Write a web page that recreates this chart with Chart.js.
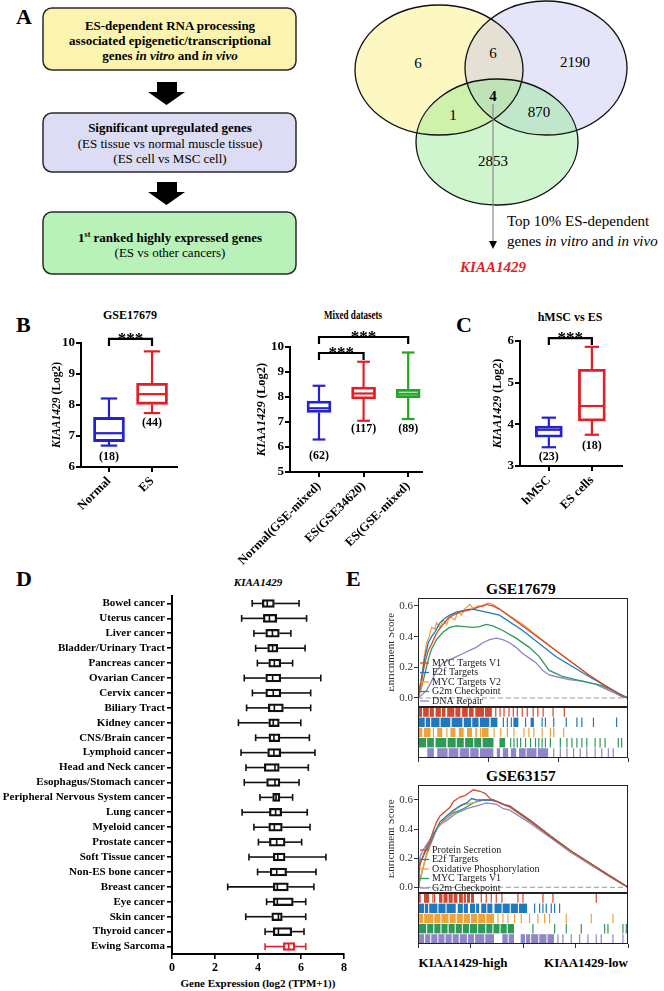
<!DOCTYPE html>
<html lang="en">
<head>
<meta charset="UTF-8">
<title>KIAA1429 in Ewing sarcoma</title>
<script src="https://cdn.jsdelivr.net/npm/chart.js"></script>
<style>
  body { margin: 0; background: #fff; }
  #fig { position: relative; width: 664px; height: 991px; overflow: hidden; background: #fff; }
  #fig canvas, #fig svg { position: absolute; }
</style>
</head>
<body>
<div id="fig">
  <svg id="art" width="664" height="991" style="left:0;top:0" font-family="'Liberation Serif', 'Times New Roman', serif">
    <!-- A : flow chart -->
    <rect x="43" y="8" width="253" height="62" rx="9" fill="#fbf4b0" stroke="#2a2a2a" stroke-width="1.5"/>
    <g font-size="13" font-weight="bold" text-anchor="middle">
      <text x="170" y="29.5">ES-dependent RNA processing</text>
      <text x="170" y="44.5">associated epigenetic/transcriptional</text>
      <text x="170" y="59.5">genes <tspan font-style="italic">in vitro</tspan> and <tspan font-style="italic">in vivo</tspan></text>
    </g>
    <polygon points="157,82 177,82 177,92 185,92 166.5,105 148,92 157,92" fill="#000"/>
    <rect x="43" y="113" width="253" height="59" rx="9" fill="#dcdcf4" stroke="#2a2a2a" stroke-width="1.5"/>
    <g font-size="13" text-anchor="middle">
      <text x="170" y="131.5" font-weight="bold">Significant upregulated genes</text>
      <text x="170" y="147.5">(ES tissue vs normal muscle tissue)</text>
      <text x="170" y="162.5">(ES cell vs MSC cell)</text>
    </g>
    <polygon points="157,182 177,182 177,192 185,192 166.5,205 148,192 157,192" fill="#000"/>
    <rect x="43" y="212" width="253" height="62" rx="9" fill="#b9f2b9" stroke="#2a2a2a" stroke-width="1.5"/>
    <g font-size="13" text-anchor="middle">
      <text x="170" y="241.5" font-weight="bold">1<tspan font-size="8" dy="-5">st</tspan><tspan dy="5"> ranked highly expressed genes</tspan></text>
      <text x="170" y="256.5">(ES vs other cancers)</text>
    </g>
    <!-- A : venn -->
    <g id="vennFill">
      <ellipse cx="439" cy="70" rx="84" ry="65" fill="rgb(250,240,120)" fill-opacity="0.45"/>
      <ellipse cx="546" cy="68" rx="81" ry="67" fill="rgb(190,190,240)" fill-opacity="0.4"/>
      <ellipse cx="497" cy="142" rx="81" ry="63" fill="rgb(140,230,140)" fill-opacity="0.42"/>
    </g>
    <g fill="none" stroke="#111" stroke-width="1.3">
      <ellipse cx="439" cy="70" rx="84" ry="65"/>
      <ellipse cx="546" cy="68" rx="81" ry="67"/>
      <ellipse cx="497" cy="142" rx="81" ry="63"/>
    </g>
    <g id="vennText" font-size="15" text-anchor="middle"></g>
    <line x1="493" y1="104" x2="493" y2="243" stroke="#8a8a8a" stroke-width="1.2"/>
    <polygon points="489,241 497,241 493,249" fill="#000"/>
    <g font-size="15">
      <text x="507" y="226">Top 10% ES-dependent</text>
      <text x="507" y="246">genes <tspan font-style="italic">in vitro</tspan> and <tspan font-style="italic">in vivo</tspan></text>
    </g>
    <text x="493" y="272" font-size="15" font-weight="bold" font-style="italic" fill="#e41e26" text-anchor="middle">KIAA1429</text>

    <!-- panel letters -->
    <g font-size="22" font-weight="bold">
      <text x="16" y="24">A</text>
      <text x="16" y="332">B</text>
      <text x="456" y="332">C</text>
      <text x="16" y="586">D</text>
      <text x="346" y="586">E</text>
    </g>
    <!-- B / C titles -->
    <g font-size="12" font-weight="bold" text-anchor="middle">
      <text x="130" y="319">GSE17679</text>
      <text x="353" y="319" textLength="58" lengthAdjust="spacingAndGlyphs">Mixed datasets</text>
      <text x="570" y="321">hMSC vs ES</text>
    </g>
    <!-- D titles -->
    <text x="258" y="586" font-size="11" font-weight="bold" font-style="italic" text-anchor="middle">KIAA1429</text>
    <text x="258" y="987" font-size="11" font-weight="bold" text-anchor="middle">Gene Expression (log2 (TPM+1))</text>
    <!-- E titles -->
    <g font-weight="bold" text-anchor="middle">
      <text x="521" y="593.5" font-size="15.5">GSE17679</text>
      <text x="521" y="780.5" font-size="15.5">GSE63157</text>
      <text x="463" y="966.5" font-size="13">KIAA1429-high</text>
      <text x="586" y="966.5" font-size="13">KIAA1429-low</text>
    </g>
  </svg>
  <canvas id="b1" width="175" height="200" style="left:20px;top:330px"></canvas>
  <canvas id="b2" width="225" height="245" style="left:215px;top:330px"></canvas>
  <canvas id="c1" width="185" height="200" style="left:455px;top:330px"></canvas>
  <canvas id="d1" width="360" height="421" style="left:0px;top:570px"></canvas>
  <canvas id="e1" width="245" height="129" style="left:389px;top:588px"></canvas>
  <canvas id="e1r" width="245" height="57" style="left:389px;top:707px"></canvas>
  <canvas id="e2" width="245" height="128" style="left:389px;top:775px"></canvas>
  <canvas id="e2r" width="245" height="57" style="left:389px;top:893px"></canvas>
</div>

<script>
// ---------- A : venn counts
const vennCounts = [6, 6, 2190, 1, 4, 870, 2853];

// ---------- B : GSE17679
const gseGroups = ['Normal', 'ES'];
const gseMin = [6.69, 7.74];
const gseQ1 = [6.82, 8.02];
const gseMed = [7.09, 8.35];
const gseQ3 = [7.60, 8.70];
const gseMax = [8.21, 9.73];
const gseN = ['(18)', '(44)'];

// ---------- B : mixed datasets
const mixGroups = ['Normal(GSE-mixed)', 'ES(GSE34620)', 'ES(GSE-mixed)'];
const mixMin = [6.30, 7.05, 7.12];
const mixQ1 = [7.38, 7.92, 7.97];
const mixMed = [7.55, 8.14, 8.13];
const mixQ3 = [7.84, 8.40, 8.31];
const mixMax = [8.45, 9.41, 9.78];
const mixN = ['(62)', '(117)', '(89)'];

// ---------- C : hMSC vs ES
const cellGroups = ['hMSC', 'ES cells'];
const cellMin = [3.45, 3.75];
const cellQ1 = [3.69, 4.08];
const cellMed = [3.87, 4.44];
const cellQ3 = [3.96, 5.32];
const cellMax = [4.16, 5.86];
const cellN = ['(23)', '(18)'];

// ---------- D : pan-cancer expression
const cancerTypes = ['Bowel cancer', 'Uterus cancer', 'Liver cancer', 'Bladder/Urinary Tract', 'Pancreas cancer',
  'Ovarian Cancer', 'Cervix cancer', 'Biliary Tract', 'Kidney cancer', 'CNS/Brain cancer', 'Lymphoid cancer',
  'Head and Neck cancer', 'Esophagus/Stomach cancer', 'Peripheral Nervous System cancer', 'Lung cancer',
  'Myeloid cancer', 'Prostate cancer', 'Soft Tissue cancer', 'Non-ES bone cancer', 'Breast cancer', 'Eye cancer',
  'Skin cancer', 'Thyroid cancer', 'Ewing Sarcoma'];
const panMin = [3.73, 3.24, 3.81, 3.89, 3.97, 3.36, 3.74, 3.47, 3.09, 3.89, 3.21, 3.44, 3.36, 4.09, 3.26, 3.81, 4.02, 3.58, 3.98, 2.59, 4.40, 3.43, 4.33, 4.33];
const panQ1 = [4.20, 4.25, 4.36, 4.45, 4.50, 4.36, 4.36, 4.48, 4.50, 4.51, 4.45, 4.29, 4.40, 4.68, 4.53, 4.50, 4.53, 4.71, 4.57, 4.71, 4.71, 4.64, 4.71, 5.18];
const panMed = [4.43, 4.53, 4.67, 4.68, 4.76, 4.68, 4.71, 4.76, 4.71, 4.74, 4.74, 4.79, 4.79, 4.84, 4.82, 4.76, 4.87, 4.92, 4.87, 4.90, 4.90, 4.95, 4.95, 5.43];
const panQ3 = [4.76, 4.87, 4.99, 4.92, 5.06, 5.06, 5.06, 5.18, 4.99, 5.02, 5.06, 4.99, 5.02, 5.02, 5.10, 5.13, 5.26, 5.26, 5.33, 5.41, 5.64, 5.13, 5.57, 5.72];
const panMax = [5.91, 6.26, 5.53, 6.19, 5.61, 6.92, 6.45, 6.45, 5.99, 6.39, 6.65, 6.34, 5.91, 5.61, 6.29, 6.42, 6.03, 7.16, 6.70, 6.60, 6.22, 6.22, 6.14, 6.22];
const panTicks = [0, 2, 4, 6, 8];

// ---------- E : GSEA GSE17679 (rank 0..15600)
const e1Sets = ['MYC Targets V1', 'E2f Targets', 'MYC Targets V2', 'G2m Checkpoint', 'DNA Repair'];
const e1RankV1 = [0, 271, 517, 763, 1009, 1255, 1501, 1870, 2239, 2608, 3100, 3592, 4084, 4576, 5068, 5560, 6052, 7774, 10234, 12694, 15154, 15600];
const e1EsV1 = [0, 0.12, 0.23, 0.31, 0.35, 0.40, 0.44, 0.48, 0.52, 0.54, 0.56, 0.57, 0.58, 0.595, 0.61, 0.60, 0.58, 0.47, 0.31, 0.15, 0.01, 0];
const e1RankE2f = [0, 271, 517, 763, 1009, 1255, 1624, 1993, 2362, 2854, 3346, 3838, 4330, 5068, 6052, 7774, 10234, 12694, 14908, 15600];
const e1EsE2f = [0, 0.14, 0.27, 0.36, 0.40, 0.43, 0.49, 0.52, 0.54, 0.56, 0.57, 0.58, 0.575, 0.56, 0.54, 0.44, 0.27, 0.14, 0.03, 0];
const e1RankV2 = [0, 98, 271, 394, 640, 836, 1009, 1255, 1378, 1624, 1870, 2116, 2362, 2731, 2977, 3223, 3469, 3838, 4084, 4453, 4822, 5191, 5560, 6052, 7774, 10234, 12694, 15154, 15600];
const e1EsV2 = [0, 0.03, 0.07, 0.23, 0.36, 0.40, 0.46, 0.45, 0.49, 0.46, 0.51, 0.48, 0.53, 0.51, 0.56, 0.54, 0.58, 0.61, 0.585, 0.60, 0.595, 0.62, 0.61, 0.58, 0.48, 0.31, 0.15, 0.01, 0];
const e1RankG2m = [0, 271, 517, 763, 1009, 1378, 1870, 2362, 2854, 3469, 4084, 4576, 5068, 5560, 6298, 7282, 8266, 9004, 9742, 10234, 10726, 11710, 12694, 13678, 14662, 15154, 15600];
const e1EsG2m = [0, 0.07, 0.16, 0.25, 0.32, 0.38, 0.43, 0.46, 0.47, 0.465, 0.46, 0.465, 0.48, 0.47, 0.44, 0.39, 0.33, 0.27, 0.18, 0.16, 0.14, 0.12, 0.10, 0.08, 0.04, 0.01, 0];
const e1RankDna = [0, 271, 640, 1009, 1378, 1870, 2362, 2854, 3346, 3838, 4330, 4822, 5314, 5806, 6298, 6790, 7282, 7774, 8266, 8758, 9250, 9742, 10234, 11218, 12202, 13186, 14170, 15154, 15600];
const e1EsDna = [0, 0.02, 0.05, 0.11, 0.18, 0.23, 0.25, 0.27, 0.29, 0.31, 0.33, 0.36, 0.38, 0.39, 0.38, 0.36, 0.33, 0.29, 0.26, 0.23, 0.18, 0.15, 0.14, 0.12, 0.11, 0.09, 0.05, 0.01, 0];
// hit positions: dense runs and single hits
const e1HitRuns = [
  [[0, 300], [380, 800], [870, 1181], [1304, 1700], [1780, 2042], [2166, 2700], [2780, 3150], [3273, 3700], [3780, 4134], [4257, 4900], [4980, 5486]],
  [[0, 500], [580, 900], [980, 1600], [1680, 2400], [2500, 3300], [3400, 3950], [4030, 4500], [4600, 5300], [5400, 5900], [7085, 7454], [8364, 8610]],
  [[0, 320], [443, 935], [1427, 1796], [2411, 2780], [3026, 3395], [3641, 4010], [4256, 4379], [4748, 5240]],
  [[0, 600], [680, 1181], [1304, 2100], [2200, 2800], [2880, 3400], [3500, 4100], [4180, 4700], [4800, 5609], [6052, 6470]],
  [[689, 1181], [1427, 2200], [2280, 3000], [3100, 3800], [3880, 4500], [4600, 5600], [5855, 6100], [6300, 6700], [6900, 7300], [7500, 8000], [8069, 8800], [8900, 9668]]
];
const e1Hits = [
  [5732, 6052, 6347, 6716, 7036, 7331, 7700, 8069, 8512, 8856, 9250, 9988, 10824],
  [6298, 6593, 6888, 7946, 9176, 9422, 10037, 10972, 11759, 12128, 12989, 14711],
  [1100, 2100, 4600, 5609, 6101, 6593, 7085, 7823, 8192, 8561, 9176, 9791, 10037, 10775],
  [6839, 7085, 7331, 7577, 7946, 8315, 8684, 8930, 9176, 9422, 9791, 10529, 11021, 11390, 11759, 12128, 12497, 13112, 13481, 13850, 14834, 15080],
  [10037, 10529, 11021, 11513, 12005, 12497, 13112, 13604, 14096, 14465]
];

// ---------- E : GSEA GSE63157 (rank 0..20600)
const e2Sets = ['Protein Secretion', 'E2f Targets', 'Oxidative Phosphorylation', 'MYC Targets V1', 'G2m Checkpoint'];
const e2RankProt = [0, 196, 523, 850, 1177, 1504, 1831, 2158, 2485, 2812, 3139, 3466, 4120, 4611, 4938, 5428, 6082, 6573, 7063, 7717, 8371, 9000, 11000, 13000, 15000, 17000, 19000, 20600];
const e2EsProt = [0, 0.165, 0.22, 0.28, 0.32, 0.39, 0.45, 0.49, 0.51, 0.53, 0.55, 0.59, 0.62, 0.63, 0.646, 0.67, 0.66, 0.646, 0.61, 0.59, 0.57, 0.555, 0.46, 0.35, 0.25, 0.16, 0.07, 0];
const e2RankE2f = [0, 98, 360, 687, 1177, 1668, 2158, 2812, 3466, 4120, 4774, 5265, 5755, 6246, 7063, 7717, 8371, 9000, 11000, 13000, 15000, 17000, 19000, 20600];
const e2EsE2f = [0, 0.14, 0.19, 0.24, 0.30, 0.38, 0.45, 0.49, 0.53, 0.56, 0.58, 0.61, 0.60, 0.60, 0.60, 0.59, 0.57, 0.555, 0.455, 0.35, 0.25, 0.16, 0.07, 0];
const e2RankOx = [0, 262, 687, 1177, 1831, 2485, 3139, 3793, 4447, 5428, 6409, 7390, 8371, 9000, 11000, 13000, 15000, 17000, 19000, 20600];
const e2EsOx = [0, 0.07, 0.19, 0.28, 0.40, 0.45, 0.50, 0.54, 0.57, 0.58, 0.60, 0.60, 0.57, 0.55, 0.45, 0.35, 0.245, 0.155, 0.07, 0];
const e2RankMyc = [0, 196, 523, 850, 1177, 1831, 2485, 3466, 4447, 5428, 6409, 7390, 8371, 9000, 11000, 13000, 15000, 17000, 19000, 20600];
const e2EsMyc = [0, 0.05, 0.14, 0.23, 0.29, 0.40, 0.46, 0.51, 0.54, 0.58, 0.60, 0.60, 0.57, 0.56, 0.46, 0.355, 0.25, 0.16, 0.07, 0];
const e2RankG2m = [0, 196, 523, 1014, 1504, 2158, 2812, 3793, 4774, 5755, 6736, 7717, 8371, 9000, 11000, 13000, 15000, 17000, 19000, 20600];
const e2EsG2m = [0, 0.21, 0.26, 0.31, 0.37, 0.43, 0.46, 0.51, 0.54, 0.56, 0.58, 0.57, 0.54, 0.53, 0.44, 0.34, 0.24, 0.15, 0.065, 0];
const e2HitRuns = [
  [[0, 262], [589, 1079], [2060, 2400], [2500, 2900], [3000, 3400], [3500, 3859], [4022, 4400], [4500, 4700], [4800, 5100], [5200, 5494]],
  [[0, 600], [680, 1000], [1100, 1900], [2000, 2700], [2800, 3700], [3900, 4400], [4500, 4900], [5100, 5600], [5700, 6000], [6200, 6700], [6800, 7300], [7500, 8200], [8300, 9000], [9100, 9800], [9900, 10700]],
  [[0, 500], [600, 1500], [1600, 2200], [2300, 3000], [3100, 3700], [3800, 4400], [4500, 5100], [5200, 5800], [5900, 6600], [6700, 7456]],
  [[0, 800], [900, 1500], [1600, 2200], [2300, 2900], [3000, 3600], [3700, 4300], [4400, 5000], [5100, 5800], [5900, 6600], [6700, 7300], [7400, 8000], [8100, 8700], [8800, 9418]],
  [[0, 600], [700, 1200], [1300, 1900], [2000, 2600], [2700, 3300], [3400, 4000], [4100, 4800], [4900, 5500], [5600, 6500], [6600, 7456], [8273, 8800], [8900, 9418], [10072, 10500], [10600, 11000], [11100, 11800], [11900, 12600], [12700, 13342]]
];
const e2Hits = [
  [1406, 1570, 6148, 6638, 7129, 7619, 8175, 9745, 10235, 12197, 13178, 17429],
  [11380, 11870, 12197, 12524, 13015, 13342, 13832],
  [7783, 8273, 8764, 9418, 10072, 10889, 11707, 12361, 12851, 14486, 16939, 19064],
  [11216, 13342, 14486, 15958, 18247, 18574, 20045, 20372],
  [13669, 14159, 14977, 15794, 16612, 17429, 17920, 19064, 20045]
];
const esTicks = [0, 0.2, 0.4, 0.6];

// ---------------------------------------------------------------
const SERIF = "'Liberation Serif', 'Times New Roman', serif";
Chart.defaults.font.family = SERIF;
Chart.defaults.color = '#000';
Chart.defaults.animation = false;
Chart.defaults.plugins.legend.display = false;
Chart.defaults.plugins.tooltip.enabled = false;

const setColors = ['#cf4a30', '#2079c0', '#f0a23a', '#2e9a58', '#8f86c8'];
const blue = '#2323d4', red = '#e21f26', green = '#21a821';

// venn numbers
const vennSpots = [[418, 63], [493, 53], [575, 62], [453, 115], [493, 96], [539, 112], [493, 161]];
const vg = document.getElementById('vennText');
vennCounts.forEach((n, i) => {
  const t = document.createElementNS('http://www.w3.org/2000/svg', 'text');
  t.setAttribute('x', vennSpots[i][0]);
  t.setAttribute('y', vennSpots[i][1] + 5);
  if (n === 4) t.setAttribute('font-weight', 'bold');
  t.textContent = n;
  vg.appendChild(t);
});

// box + whisker drawing on top of the floating bars
function boxPlugin(cfg) {
  return {
    id: 'boxes',
    afterDatasetsDraw(chart) {
      const { ctx, chartArea: a } = chart;
      const horiz = chart.options.indexAxis === 'y';
      const v = horiz ? chart.scales.x : chart.scales.y;
      ctx.save();
      chart.getDatasetMeta(0).data.forEach((bar, i) => {
        const c = horiz ? bar.y : bar.x;
        const half = (horiz ? bar.height : bar.width) / 2;
        const cap = half * cfg.cap;
        const seg = (v1, c1, v2, c2) => {
          ctx.beginPath();
          if (horiz) { ctx.moveTo(v1, c1); ctx.lineTo(v2, c2); } else { ctx.moveTo(c1, v1); ctx.lineTo(c2, v2); }
          ctx.stroke();
        };
        const p = val => v.getPixelForValue(val);
        ctx.strokeStyle = cfg.colors[i];
        ctx.lineWidth = cfg.lw;
        seg(p(cfg.min[i]), c, p(cfg.q1[i]), c);
        seg(p(cfg.q3[i]), c, p(cfg.max[i]), c);
        seg(p(cfg.min[i]), c - cap, p(cfg.min[i]), c + cap);
        seg(p(cfg.max[i]), c - cap, p(cfg.max[i]), c + cap);
        seg(p(cfg.med[i]), c - half + 1, p(cfg.med[i]), c + half - 1);
        if (cfg.counts) {
          ctx.fillStyle = '#000';
          ctx.font = 'bold 12px ' + SERIF;
          ctx.textAlign = 'center';
          ctx.textBaseline = 'middle';
          ctx.fillText(cfg.counts[i], c, p(cfg.countY[i]));
        }
      });
      (cfg.brackets || []).forEach(b => {
        const x1 = chart.scales.x.getPixelForValue(b.from), x2 = chart.scales.x.getPixelForValue(b.to);
        const y = v.getPixelForValue(b.at);
        ctx.strokeStyle = '#000';
        ctx.lineWidth = 2.2;
        ctx.beginPath();
        ctx.moveTo(x1, y + 7); ctx.lineTo(x1, y); ctx.lineTo(x2, y); ctx.lineTo(x2, y + 7);
        ctx.stroke();
        ctx.fillStyle = '#000';
        ctx.font = 'bold 17px ' + SERIF;
        ctx.textAlign = 'center';
        ctx.textBaseline = 'alphabetic';
        ctx.fillText('***', (x1 + x2) / 2, y + 5);
      });
      if (cfg.titleX !== undefined) {
        ctx.translate(cfg.titleX, (a.top + a.bottom) / 2);
        ctx.rotate(-Math.PI / 2);
        ctx.fillStyle = '#000';
        ctx.textBaseline = 'middle';
        ctx.textAlign = 'left';
        const f1 = 'italic bold ' + cfg.titleSize + 'px ' + SERIF, f2 = 'bold ' + cfg.titleSize + 'px ' + SERIF;
        ctx.font = f1; const w1 = ctx.measureText('KIAA1429').width;
        ctx.font = f2; const w2 = ctx.measureText(' (Log2)').width;
        ctx.font = f1; ctx.fillText('KIAA1429', -(w1 + w2) / 2, 0);
        ctx.font = f2; ctx.fillText(' (Log2)', -(w1 + w2) / 2 + w1, 0);
      }
      ctx.restore();
    }
  };
}

function boxChart(id, labels, min, q1, med, q3, max, counts, o) {
  const pos = labels.map((_, i) => i + 1);
  return new Chart(document.getElementById(id), {
    type: 'bar',
    data: {
      datasets: [{
        data: pos.map((x, i) => ({ x: x, y: [q1[i], q3[i]] })),
        backgroundColor: 'rgba(255,255,255,0)',
        borderColor: o.colors,
        borderWidth: 2.2,
        borderSkipped: false,
        barThickness: o.boxW
      }]
    },
    options: {
      responsive: false,
      layout: { padding: { left: 0, top: o.padTop, right: o.padRight, bottom: 0 } },
      scales: {
        x: {
          type: 'linear', min: o.xMin, max: o.xMax, offset: false,
          afterBuildTicks: s => { s.ticks = pos.map(v => ({ value: v })); },
          afterFit: s => { s.height = o.xH; },
          ticks: { callback: v => labels[v - 1], autoSkip: false, minRotation: 45, maxRotation: 45, padding: 2, font: { size: 12.5, weight: 'bold' } },
          grid: { offset: false, drawOnChartArea: false, tickLength: 5, color: '#000', lineWidth: 2 },
          border: { color: '#000', width: 2 }
        },
        y: {
          min: o.yMin, max: o.yMax,
          afterFit: s => { s.width = o.yW; },
          ticks: { stepSize: 1, padding: 1, font: { size: 13, weight: 'bold' } },
          grid: { drawOnChartArea: false, tickLength: 5, color: '#000', lineWidth: 2 },
          border: { color: '#000', width: 2 }
        }
      }
    },
    plugins: [boxPlugin({ min, q1, med, q3, max, counts, countY: o.countY, colors: o.colors, lw: 2.2, cap: 0.53,
      brackets: o.brackets, titleX: o.titleX, titleSize: o.titleSize })]
  });
}

boxChart('b1', gseGroups, gseMin, gseQ1, gseMed, gseQ3, gseMax, gseN, {
  colors: [blue, red], boxW: 31, xMin: 0.35, xMax: 2.58, yMin: 6, yMax: 10,
  padTop: 13, padRight: 18, yW: 61, xH: 63, countY: [6.32, 7.42],
  brackets: [{ from: 1, to: 2, at: 10.13 }], titleX: 37, titleSize: 11.5
});
boxChart('b2', mixGroups, mixMin, mixQ1, mixMed, mixQ3, mixMax, mixN, {
  colors: [blue, red, green], boxW: 24, xMin: 0.35, xMax: 3.31, yMin: 5, yMax: 10,
  padTop: 17, padRight: 18, yW: 75, xH: 103, countY: [5.64, 6.72, 6.72],
  brackets: [{ from: 1, to: 3, at: 10.4 }, { from: 1, to: 2, at: 9.76 }], titleX: 47, titleSize: 12.5
});
boxChart('c1', cellGroups, cellMin, cellQ1, cellMed, cellQ3, cellMax, cellN, {
  colors: [blue, red], boxW: 27, xMin: 0.33, xMax: 2.7, yMin: 3, yMax: 6,
  padTop: 11, padRight: 18, yW: 65, xH: 64, countY: [3.22, 3.48],
  brackets: [{ from: 1, to: 2, at: 6.07 }], titleX: 43, titleSize: 12
});

// D : horizontal box plots
const dColors = cancerTypes.map(c => c === 'Ewing Sarcoma' ? '#e4202a' : '#111');
new Chart(document.getElementById('d1'), {
  type: 'bar',
  data: {
    labels: cancerTypes,
    datasets: [{
      data: cancerTypes.map((_, i) => [panQ1[i], panQ3[i]]),
      backgroundColor: 'rgba(255,255,255,0)',
      borderColor: dColors,
      borderWidth: 1.6,
      borderSkipped: false,
      barThickness: 8
    }]
  },
  options: {
    indexAxis: 'y',
    responsive: false,
    layout: { padding: { left: 0, top: 26, right: 16, bottom: 0 } },
    scales: {
      x: {
        min: 0, max: 8,
        afterBuildTicks: s => { s.ticks = panTicks.map(v => ({ value: v })); },
        afterFit: s => { s.height = 37; },
        ticks: { padding: 2, font: { size: 12, weight: 'bold' } },
        grid: { drawOnChartArea: false, tickLength: 5, color: '#000', lineWidth: 1.6 },
        border: { color: '#000', width: 2 }
      },
      y: {
        afterFit: s => { s.width = 172; },
        ticks: { autoSkip: false, padding: 2, font: { size: 11, weight: 'bold' } },
        grid: { offset: false, drawOnChartArea: false, tickLength: 5, color: '#000', lineWidth: 1.6 },
        border: { color: '#000', width: 2 }
      }
    }
  },
  plugins: [boxPlugin({ min: panMin, q1: panQ1, med: panMed, q3: panQ3, max: panMax, colors: dColors, lw: 1.6, cap: 0.85 })]
});

// E : frame, inside legend and cut y title
function framePlugin(cfg) {
  return {
    id: 'frame',
    afterDraw(chart) {
      const { ctx, chartArea: a } = chart;
      ctx.save();
      ctx.strokeStyle = '#222';
      ctx.lineWidth = 1;
      ctx.strokeRect(a.left + 0.5, a.top + 0.5, a.right - a.left - 1, a.bottom - a.top - 1);
      if (cfg.legend) {
        ctx.font = '10px ' + SERIF;
        ctx.textBaseline = 'middle';
        ctx.textAlign = 'left';
        cfg.legend.forEach((name, i) => {
          const y = a.bottom - cfg.legendBottom - 9.5 * (cfg.legend.length - 1 - i);
          ctx.strokeStyle = setColors[i];
          ctx.lineWidth = 1.3;
          ctx.beginPath(); ctx.moveTo(a.left + 2, y); ctx.lineTo(a.left + 11, y); ctx.stroke();
          ctx.fillStyle = '#222';
          ctx.fillText(name, a.left + 14, y);
        });
        ctx.translate(2, (a.top + a.bottom) / 2);
        ctx.rotate(-Math.PI / 2);
        ctx.font = '11px ' + SERIF;
        ctx.fillStyle = '#333';
        ctx.textAlign = 'center';
        ctx.fillText('Enrichment Score', 0, 0);
      }
      ctx.restore();
    }
  };
}

function curveChart(id, names, ranks, scores, maxRank, yMin, yMax, legendBottom) {
  const ds = names.map((n, i) => ({
    label: n,
    data: ranks[i].map((r, j) => ({ x: r, y: scores[i][j] })),
    borderColor: setColors[i], borderWidth: 1.3, pointRadius: 0, tension: 0
  }));
  ds.push({ label: '', data: [{ x: 0, y: 0 }, { x: maxRank, y: 0 }], borderColor: '#9a9a9a', borderDash: [5, 3], borderWidth: 1, pointRadius: 0 });
  new Chart(document.getElementById(id), {
    type: 'line',
    data: { datasets: ds },
    options: {
      responsive: false,
      layout: { padding: { left: 0, top: 10, right: 6, bottom: 10 } },
      scales: {
        x: { type: 'linear', display: false, min: 0, max: maxRank },
        y: {
          min: yMin, max: yMax,
          afterBuildTicks: s => { s.ticks = esTicks.map(v => ({ value: v })); },
          afterFit: s => { s.width = 29; },
          ticks: { callback: v => v.toFixed(1), color: '#333', padding: 1, font: { size: 11 } },
          grid: { drawOnChartArea: false, tickLength: 4, color: '#333' },
          border: { display: false }
        }
      }
    },
    plugins: [framePlugin({ legend: names, legendBottom })]
  });
}

function rugChart(id, runs, hits, maxRank) {
  const rows = ['r1', 'r2', 'r3', 'r4', 'r5'];
  const tickW = maxRank / 210 * 1.2;
  new Chart(document.getElementById(id), {
    type: 'bar',
    data: {
      labels: rows,
      datasets: rows.map((row, i) => ({
        data: runs[i].concat(hits[i].map(h => [h, h + tickW])).map(s => ({ x: s, y: row })),
        backgroundColor: setColors[i],
        borderWidth: 0,
        grouped: false,
        barPercentage: 0.92,
        categoryPercentage: 1
      }))
    },
    options: {
      indexAxis: 'y',
      responsive: false,
      layout: { padding: { left: 29, top: 0, right: 6, bottom: 0 } },
      scales: {
        x: {
          type: 'linear', min: 0, max: maxRank, offset: false,
          afterFit: s => { s.height = 6; },
          ticks: { stepSize: 5000, includeBounds: false, display: false },
          grid: { offset: false, drawOnChartArea: false, tickLength: 4, color: '#333' },
          border: { display: false }
        },
        y: { display: false }
      }
    },
    plugins: [framePlugin({})]
  });
}

curveChart('e1', e1Sets, [e1RankV1, e1RankE2f, e1RankV2, e1RankG2m, e1RankDna],
  [e1EsV1, e1EsE2f, e1EsV2, e1EsG2m, e1EsDna], 15600, -0.059, 0.652, 6);
rugChart('e1r', e1HitRuns, e1Hits, 15600);
curveChart('e2', e2Sets, [e2RankProt, e2RankE2f, e2RankOx, e2RankMyc, e2RankG2m],
  [e2EsProt, e2EsE2f, e2EsOx, e2EsMyc, e2EsG2m], 20600, -0.039, 0.703, 5);
rugChart('e2r', e2HitRuns, e2Hits, 20600);
</script>
</body>
</html>
